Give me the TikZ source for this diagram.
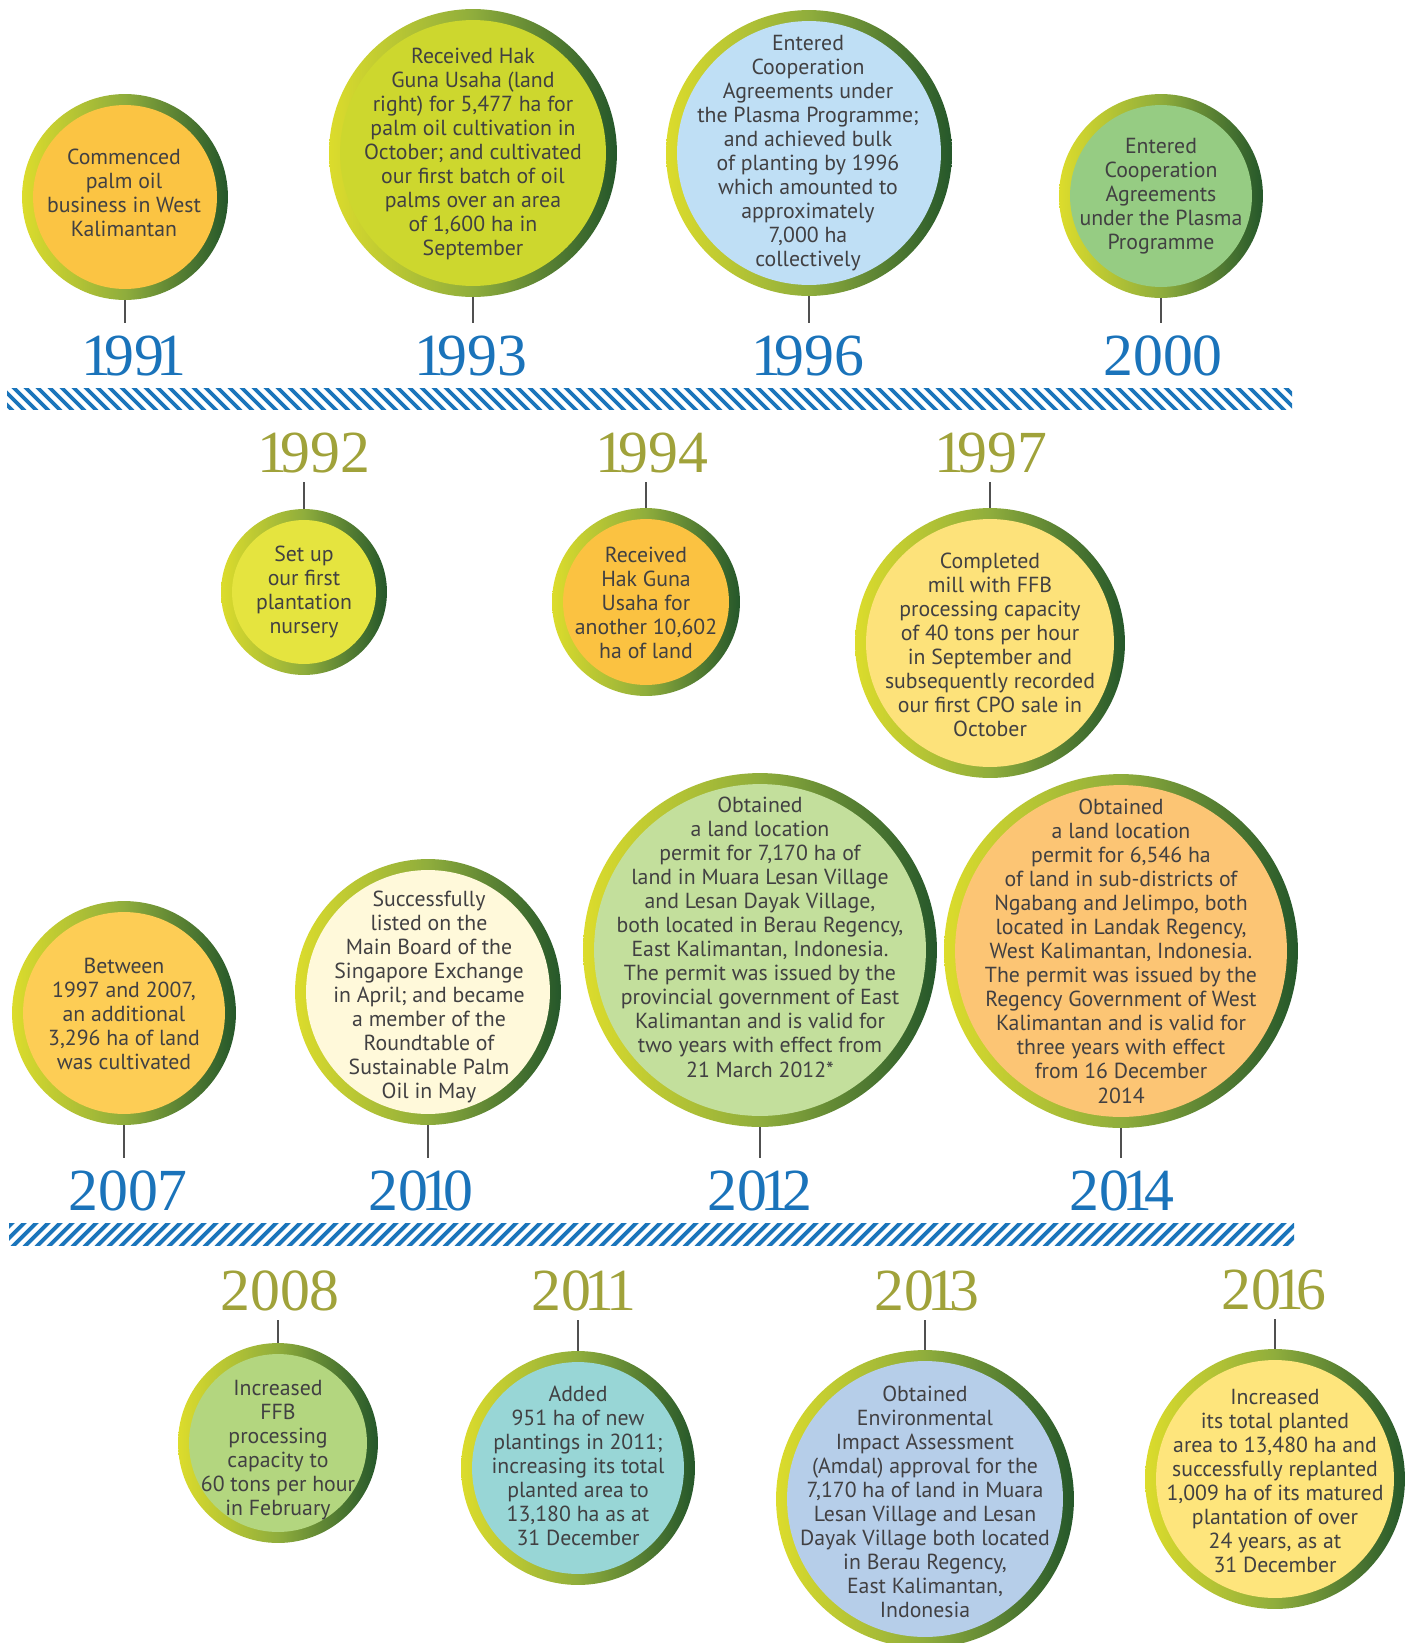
\documentclass[tikz,border=0pt]{standalone}
\usepackage{fontspec}
\setmainfont{PT Sans}
\newfontfamily\yearfont{Liberation Serif}
\newXeTeXintercharclass\oneclass
\XeTeXcharclass`1=\oneclass
\XeTeXinterchartoks 0 \oneclass={\kern-.12em}
\XeTeXinterchartoks \oneclass 0={\kern-.12em}
\XeTeXinterchartoks \oneclass \oneclass={\kern-.12em}
\newcommand{\yearkern}{\XeTeXinterchartokenstate=1\relax}
\usetikzlibrary{calc}
\definecolor{ringL}{HTML}{DCDC2C}
\definecolor{ringM}{HTML}{8FAD3C}
\definecolor{ringR}{HTML}{25572A}
\definecolor{txt}{HTML}{414042}
\definecolor{yblue}{HTML}{1A73BA}
\definecolor{yolive}{HTML}{A0A23A}
\definecolor{bandblue}{HTML}{1B75BB}
\definecolor{stemgray}{HTML}{505050}
\definecolor{f1991}{HTML}{FBC443}
\definecolor{f1993}{HTML}{CDD72E}
\definecolor{f1996}{HTML}{BFDFF5}
\definecolor{f2000}{HTML}{96CC83}
\definecolor{f1992}{HTML}{E5E43F}
\definecolor{f1994}{HTML}{FBC241}
\definecolor{f1997}{HTML}{FDE27A}
\definecolor{f2007}{HTML}{FDCD55}
\definecolor{f2010}{HTML}{FFF9DA}
\definecolor{f2012}{HTML}{C3DF9C}
\definecolor{f2014}{HTML}{FCC574}
\definecolor{f2008}{HTML}{B3D67F}
\definecolor{f2011}{HTML}{98D6D6}
\definecolor{f2013}{HTML}{B6CEE9}
\definecolor{f2016}{HTML}{FEE57C}
\begin{document}
\begin{tikzpicture}
[x=0.02cm,y=-0.02cm,
ring/.style={circle,inner sep=0pt,outer sep=0pt,minimum size=#1*0.04cm,
  left color=ringL,right color=ringR,middle color=ringM},
disc/.style={path picture={\fill[#1] let \p1=($(path picture bounding box.east)-(path picture bounding box.center)$)
  in (path picture bounding box.center) circle ({\x1-0.22cm});}},
note/.style={align=center,text=txt,inner sep=0pt,font=\fontsize{12.4}{13.7}\selectfont},
year/.style={inner sep=0pt,text height=24pt,text depth=0pt,
  font=\yearfont\fontsize{34}{34}\selectfont\yearkern},
up year/.style={year,text=yblue},
down year/.style={year,text=yolive},
stem/.style={draw=stemgray,line width=0.9pt},
stripe/.style={draw=bandblue,line width=2.2pt}]
\useasboundingbox (0,0) rectangle (1408,1643);

\begin{scope}
\clip (7,388) rectangle (1292,409);
\foreach \x in {-12,0,...,1296} \draw[stripe] (\x,386) -- ++(25,25);
\end{scope}
\begin{scope}
\clip (9,1223) rectangle (1294,1245);
\foreach \x in {-12,0,...,1296} \draw[stripe] (\x,1247) -- ++(26,-26);
\end{scope}

\node [ring=103,disc=f1991] (c1991) at (125,197) {};
\node [note] (t1991) at (124,193) {Commenced\\palm oil\\business in West\\Kalimantan};
\node [ring=144,disc=f1993] (c1993) at (473,153) {};
\node [note] (t1993) at (473,154) {Received Hak\\Guna Usaha (land\\right) for 5,477 ha for\\palm oil cultivation in\\October; and cultivated\\our first batch of oil\\palms over an area\\of 1,600 ha in\\September};
\node [ring=143,disc=f1996] (c1996) at (809,153) {};
\node [note] (t1996) at (808,153) {Entered\\Cooperation\\Agreements under\\the Plasma Programme;\\and achieved bulk\\of planting by 1996\\which amounted to\\approximately\\7,000 ha\\collectively};
\node [ring=102,disc=f2000] (c2000) at (1161,196) {};
\node [note] (t2000) at (1161,196) {Entered\\Cooperation\\Agreements\\under the Plasma\\Programme};

\node [ring=83,disc=f1992] (c1992) at (304,592) {};
\node [note] (t1992) at (304,592) {Set up\\our first\\plantation\\nursery};
\node [ring=94,disc=f1994] (c1994) at (646,602) {};
\node [note] (t1994) at (646,603) {Received\\Hak Guna\\Usaha for\\another 10,602\\ha of land};
\node [ring=135,disc=f1997] (c1997) at (990,643) {};
\node [note] (t1997) at (990,645) {Completed\\mill with FFB\\processing capacity\\of 40 tons per hour\\in September and\\subsequently recorded\\our first CPO sale in\\October};

\node [ring=112,disc=f2007] (c2007) at (124,1013) {};
\node [note] (t2007) at (124,1014) {Between\\1997 and 2007,\\an additional\\3,296 ha of land\\was cultivated};
\node [ring=133,disc=f2010] (c2010) at (428,992) {};
\node [note] (t2010) at (429,997) {Successfully\\listed on the\\Main Board of the\\Singapore Exchange\\in April; and became\\a member of the\\Roundtable of\\Sustainable Palm\\Oil in May};
\node [ring=177,disc=f2012] (c2012) at (760,950) {};
\node [note] (t2012) at (760,937) {Obtained\\a land location\\permit for 7,170 ha of\\land in Muara Lesan Village\\and Lesan Dayak Village,\\both located in Berau Regency,\\East Kalimantan, Indonesia.\\The permit was issued by the\\provincial government of East\\Kalimantan and is valid for\\two years with effect from\\21 March 2012*};
\node [ring=177,disc=f2014] (c2014) at (1121,951) {};
\node [note] (t2014) at (1121,951) {Obtained\\a land location\\permit for 6,546 ha\\of land in sub-districts of\\Ngabang and Jelimpo, both\\located in Landak Regency,\\West Kalimantan, Indonesia.\\The permit was issued by the\\Regency Government of West\\Kalimantan and is valid for\\three years with effect\\from 16 December\\2014};

\node [ring=100,disc=f2008] (c2008) at (278,1443) {};
\node [note] (t2008) at (278,1450) {Increased\\FFB\\processing\\capacity to\\60 tons per hour\\in February};
\node [ring=117,disc=f2011] (c2011) at (578,1468) {};
\node [note] (t2011) at (578,1466) {Added\\951 ha of new\\plantings in 2011;\\increasing its total\\planted area to\\13,180 ha as at\\31 December};
\node [ring=149,disc=f2013] (c2013) at (925,1499) {};
\node [note] (t2013) at (925,1502) {Obtained\\Environmental\\Impact Assessment\\(Amdal) approval for the\\7,170 ha of land in Muara\\Lesan Village and Lesan\\Dayak Village both located\\in Berau Regency,\\East Kalimantan,\\Indonesia};
\node [ring=130,disc=f2016] (c2016) at (1275,1479) {};
\node [note] (t2016) at (1275,1481) {Increased\\its total planted\\area to 13,480 ha and\\successfully replanted\\1,009 ha of its matured\\plantation of over\\24 years, as at\\31 December};

\node [up year] (y1991) at (134,354) {1991};
\node [up year] (y1993) at (471,354) {1993};
\node [up year] (y1996) at (808,354) {1996};
\node [up year] (y2000) at (1163,354) {2000};
\node [down year] (y1992) at (314,451) {1992};
\node [down year] (y1994) at (652,451) {1994};
\node [down year] (y1997) at (991,451) {1997};
\node [up year] (y2007) at (128,1189) {2007};
\node [up year] (y2010) at (421,1189) {2010};
\node [up year] (y2012) at (760,1189) {2012};
\node [up year] (y2014) at (1122,1189) {2014};
\node [down year] (y2008) at (280,1289) {2008};
\node [down year] (y2011) at (584,1289) {2011};
\node [down year] (y2013) at (927,1289) {2013};
\node [down year] (y2016) at (1274,1288) {2016};

\foreach \yr in {1991,1993,1996,2000,2007,2010,2012,2014}
  \draw [stem,shorten >=5.5pt] (c\yr.south) -- (c\yr.south |- y\yr.north);
\foreach \yr in {1992,1994,1997,2008,2011,2013,2016}
  \draw [stem,shorten <=5.5pt] (c\yr.north |- y\yr.south) -- (c\yr.north);
\end{tikzpicture}
\end{document}
